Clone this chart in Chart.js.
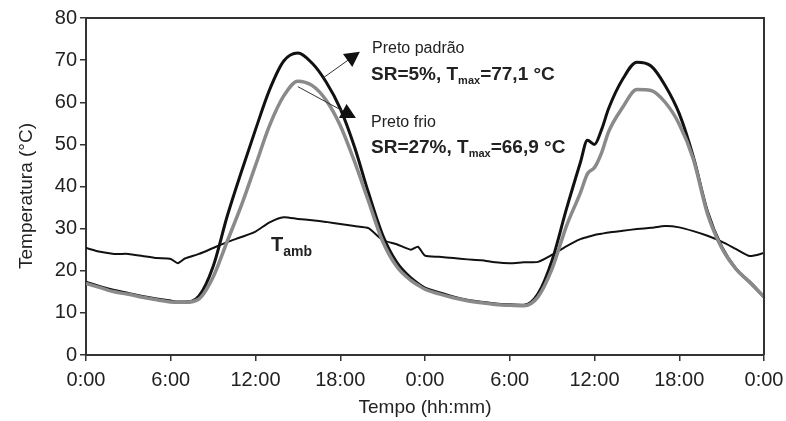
<!DOCTYPE html>
<html>
<head>
<meta charset="utf-8">
<script src="https://cdn.jsdelivr.net/npm/chart.js@4"></script>
<style>
  html, body { margin: 0; padding: 0; background: #fff; }
  #wrap { width: 786px; height: 421px; }
</style>
</head>
<body>
<div id="wrap"><canvas id="grafico"></canvas></div>
<script>
// horas desde o início do ensaio
const horas = [0, 1, 2, 3, 4, 5, 6, 6.5, 7, 8, 9, 10, 11, 12, 13, 14, 15, 16, 17, 18, 19, 20, 21, 22, 23, 23.5, 24,
  25, 26, 27, 28, 29, 30, 31, 32, 33, 34, 35, 35.5, 36, 36.5, 37, 38, 39, 40, 41, 42, 43, 44, 45, 46, 47, 48];
// temperatura ambiente
const tAmb = [25.4, 24.5, 24.0, 24.0, 23.5, 23.0, 22.8, 21.8, 22.9, 24.0, 25.4, 26.8, 28.0, 29.3, 31.5, 32.7, 32.3, 32.0,
  31.6, 31.1, 30.6, 30.1, 27.3, 26.3, 25.0, 25.7, 23.6,
  23.3, 23.0, 22.7, 22.5, 22.0, 21.8, 22.0, 22.1, 23.8, 25.8, 27.5, 28.0, 28.5, 28.8, 29.1, 29.5, 29.9, 30.2, 30.6,
  30.3, 29.4, 28.3, 26.9, 25.2, 23.5, 24.2];
// preto padrão
const pretoPadrao = [17.3, 16.2, 15.3, 14.6, 13.9, 13.3, 12.8, 12.6, 12.6, 14.0, 21.0, 33.0, 43.5, 53.5, 63.0, 69.8, 71.7,
  69.3, 64.8, 58.5, 49.5, 38.5, 28.5, 22.0, 18.3, 17.0, 15.9,
  14.8, 13.8, 13.0, 12.5, 12.1, 11.9, 11.8, 14.5, 22.5, 34.5, 45.7, 51.0, 50.0, 53.5, 58.5, 65.5, 69.5, 68.6, 64.0,
  57.3, 47.0, 34.0, 25.7, 20.5, 17.3, 13.8];
// preto frio
const pretoFrio = [17.0, 16.0, 15.0, 14.4, 13.7, 13.1, 12.6, 12.5, 12.5, 13.3, 18.5, 27.0, 35.5, 45.0, 54.5, 61.5, 65.0,
  64.0, 60.5, 54.5, 46.0, 36.5, 27.0, 21.0, 17.7, 16.6, 15.6,
  14.5, 13.6, 12.9, 12.4, 12.0, 11.8, 11.7, 13.8, 20.5, 30.5, 38.5, 43.0, 44.5, 48.0, 53.0, 58.8, 63.0, 62.8, 60.0,
  54.8, 46.5, 33.5, 25.5, 20.5, 17.2, 13.8];
const rotulosTempo = ["0:00", "6:00", "12:00", "18:00", "0:00", "6:00", "12:00", "18:00", "0:00"];

const pontos = (ys) => horas.map((h, i) => ({ x: h, y: ys[i] }));

const fonte = '"Liberation Sans", Arial, sans-serif';
const corEixo = "#333";
const corTexto = "#222";

// moldura (topo e direita), título do eixo y e anotações
const anotacoes = {
  id: "anotacoes",
  afterDatasetsDraw(chart) {
    const { ctx, chartArea: a, scales: { x, y } } = chart;
    ctx.save();
    ctx.strokeStyle = corEixo;
    ctx.lineWidth = 2;
    ctx.beginPath();
    ctx.moveTo(a.left, a.top);
    ctx.lineTo(a.right, a.top);
    ctx.lineTo(a.right, a.bottom);
    ctx.stroke();

    // título do eixo y
    ctx.save();
    ctx.translate(27, 196);
    ctx.rotate(-Math.PI / 2);
    ctx.fillStyle = corTexto;
    ctx.font = `19px ${fonte}`;
    ctx.textAlign = "center";
    ctx.textBaseline = "middle";
    ctx.fillText("Temperatura (°C)", 0, 0);
    ctx.restore();

    const seta = (h1, v1, h2, v2) => {
      const x1 = x.getPixelForValue(h1), y1 = y.getPixelForValue(v1);
      const x2 = x.getPixelForValue(h2), y2 = y.getPixelForValue(v2);
      ctx.strokeStyle = "#333";
      ctx.lineWidth = 1;
      ctx.beginPath();
      ctx.moveTo(x1, y1);
      ctx.lineTo(x2, y2);
      ctx.stroke();
      const ang = Math.atan2(y2 - y1, x2 - x1);
      ctx.fillStyle = "#111";
      ctx.beginPath();
      ctx.moveTo(x2 + 5 * Math.cos(ang), y2 + 5 * Math.sin(ang));
      ctx.lineTo(x2 - 10 * Math.cos(ang) - 8 * Math.sin(ang), y2 - 10 * Math.sin(ang) + 8 * Math.cos(ang));
      ctx.lineTo(x2 - 10 * Math.cos(ang) + 8 * Math.sin(ang), y2 - 10 * Math.sin(ang) - 8 * Math.cos(ang));
      ctx.closePath();
      ctx.fill();
    };
    seta(16.8, 65.8, 19.1, 71.3);
    seta(15.0, 63.7, 18.8, 56.8);

    const linhaSub = (px, py, antes, sub, depois, tam) => {
      ctx.fillStyle = corTexto;
      ctx.textBaseline = "alphabetic";
      ctx.font = `bold ${tam}px ${fonte}`;
      ctx.fillText(antes, px, py);
      let w = ctx.measureText(antes).width;
      ctx.font = `bold ${Math.round(tam * 0.58)}px ${fonte}`;
      ctx.fillText(sub, px + w, py + 4);
      w += ctx.measureText(sub).width;
      ctx.font = `bold ${tam}px ${fonte}`;
      ctx.fillText(depois, px + w, py);
    };

    ctx.textAlign = "left";
    ctx.textBaseline = "alphabetic";
    ctx.fillStyle = corTexto;
    ctx.font = `16px ${fonte}`;
    ctx.fillText("Preto padrão", 372, 53);
    linhaSub(371, 80, "SR=5%, T", "max", "=77,1 °C", 19);
    ctx.fillStyle = corTexto;
    ctx.font = `16px ${fonte}`;
    ctx.fillText("Preto frio", 371, 127);
    linhaSub(371, 153, "SR=27%, T", "max", "=66,9 °C", 19);

    ctx.fillStyle = corTexto;
    ctx.font = `bold 20px ${fonte}`;
    ctx.fillText("T", 271, 251);
    const wt = ctx.measureText("T").width;
    ctx.font = `bold 14px ${fonte}`;
    ctx.fillText("amb", 271 + wt, 256);
    ctx.restore();
  }
};

new Chart(document.getElementById("grafico"), {
  type: "line",
  data: {
    datasets: [
      {
        label: "Preto frio",
        data: pontos(pretoFrio),
        borderColor: "#8a8a8a",
        borderWidth: 3.5,
        pointRadius: 0,
        cubicInterpolationMode: "monotone",
      },
      {
        label: "Preto padrão",
        data: pontos(pretoPadrao),
        borderColor: "#111",
        borderWidth: 3,
        pointRadius: 0,
        cubicInterpolationMode: "monotone",
      },
      {
        label: "Tamb",
        data: pontos(tAmb),
        borderColor: "#111",
        borderWidth: 2,
        pointRadius: 0,
        tension: 0.2,
      },
    ],
  },
  options: {
    responsive: true,
    maintainAspectRatio: false,
    animation: false,
    devicePixelRatio: 1,
    layout: { padding: { top: 18, right: 22, left: 0, bottom: 1 } },
    plugins: { legend: { display: false }, tooltip: { enabled: false } },
    scales: {
      x: {
        type: "linear",
        min: 0,
        max: 48,
        afterFit: (s) => { s.height = 65; s.paddingRight = 0; s.paddingLeft = 0; },
        ticks: {
          stepSize: 6,
          autoSkip: false,
          maxRotation: 0,
          color: corTexto,
          font: { size: 20, family: fonte },
          padding: 7,
          callback: (v) => rotulosTempo[v / 6],
        },
        grid: { drawOnChartArea: false, tickLength: 6, color: corEixo, lineWidth: 1.5 },
        border: { color: corEixo, width: 2 },
        title: {
          display: true,
          text: "Tempo (hh:mm)",
          color: corTexto,
          font: { size: 19, family: fonte },
          padding: { top: 0, bottom: 1 },
        },
      },
      y: {
        min: 0,
        max: 80,
        afterFit: (s) => { s.width = 86; s.paddingTop = 0; s.paddingBottom = 0; },
        ticks: {
          stepSize: 10,
          color: corTexto,
          font: { size: 20, family: fonte },
          padding: 3,
        },
        grid: { drawOnChartArea: false, tickLength: 6, color: corEixo, lineWidth: 1.5 },
        border: { color: corEixo, width: 2 },
      },
    },
  },
  plugins: [anotacoes],
});
</script>
</body>
</html>
